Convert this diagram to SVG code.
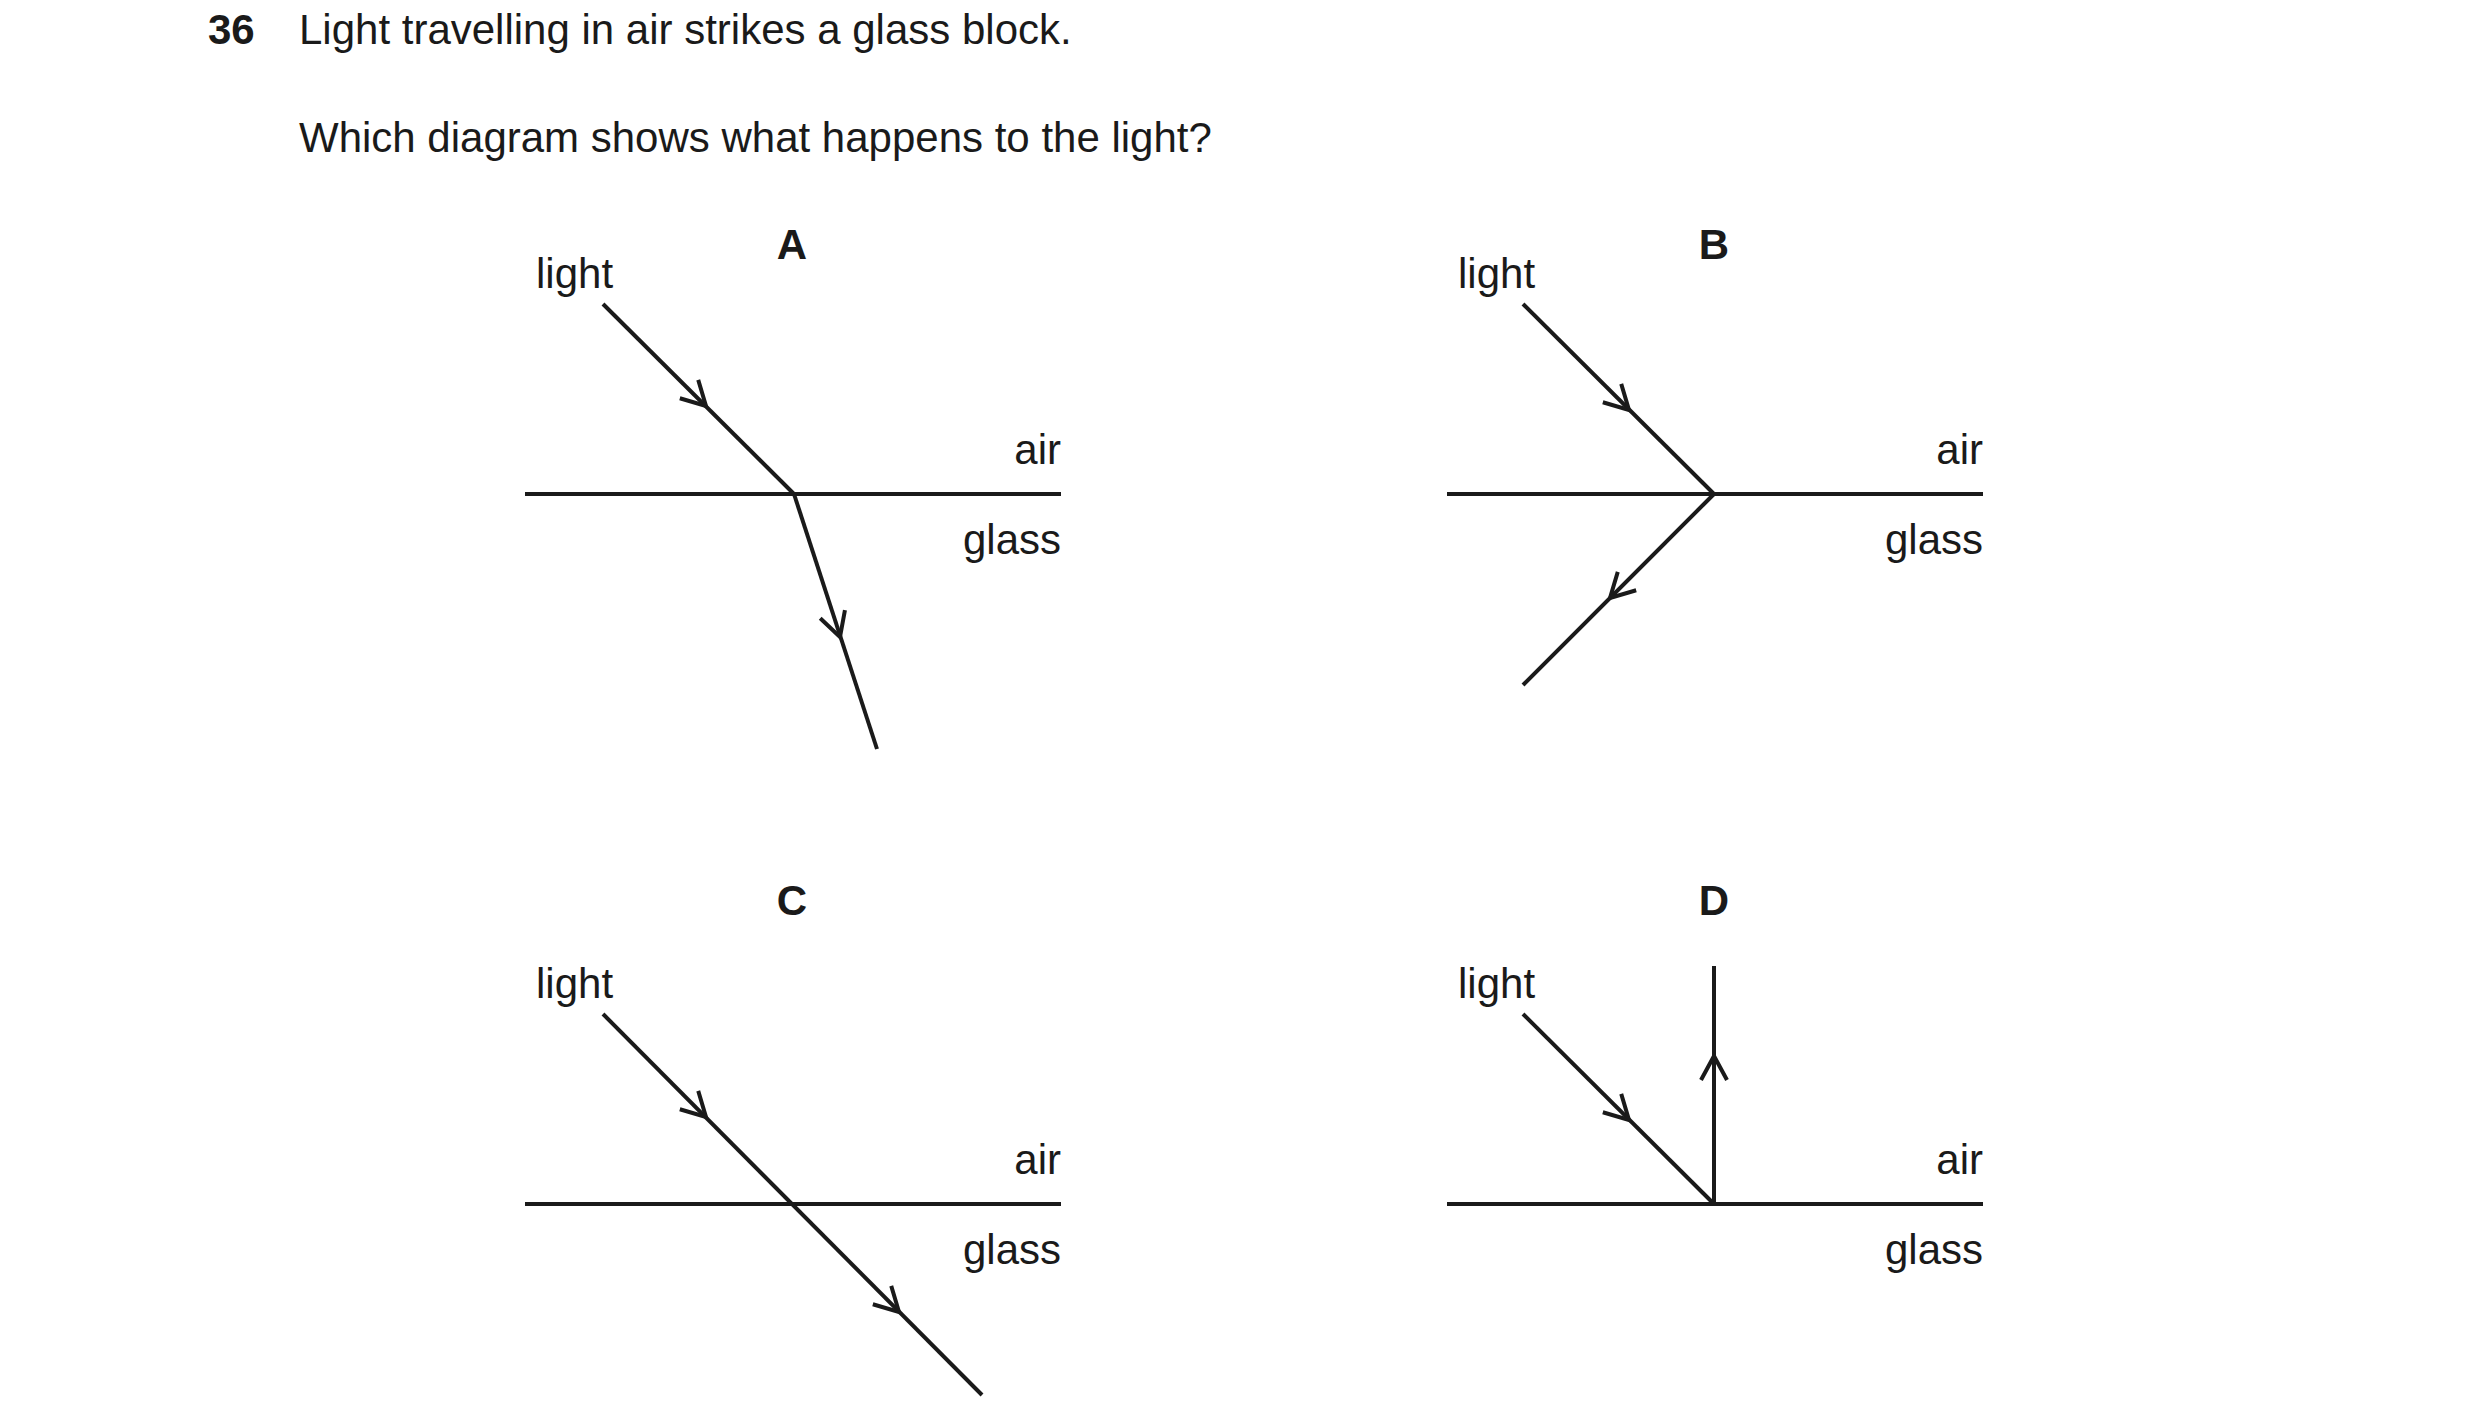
<svg xmlns="http://www.w3.org/2000/svg" width="2480" height="1420" viewBox="0 0 2480 1420">
<style>
text{font-family:"Liberation Sans",Arial,sans-serif;font-size:42px;fill:#1a1a1a}
.b{font-weight:bold}
.r{text-anchor:end}
.m{text-anchor:middle}
line,path{stroke:#1a1a1a;stroke-width:4;fill:none}
</style>
<defs><path id="ch" d="M-24,-13 L0,0 L-24,13"/></defs>
<rect width="2480" height="1420" fill="#fff"/>
<text class="b" x="208" y="44">36</text>
<text x="299" y="44">Light travelling in air strikes a glass block.</text>
<text x="299" y="152">Which diagram shows what happens to the light?</text>
<g id="A">
<text class="b m" x="792" y="259">A</text><text x="536" y="288">light</text>
<text class="r" x="1061" y="464">air</text><text class="r" x="1061" y="554">glass</text>
<line x1="525" y1="494" x2="1061" y2="494"/>
<line x1="603" y1="304" x2="794" y2="494"/><line x1="794" y1="494" x2="877" y2="749"/>
<use href="#ch" transform="translate(706,406) rotate(45)"/><use href="#ch" transform="translate(840,637) rotate(72)"/>
</g>
<g id="B">
<text class="b m" x="1714" y="259">B</text><text x="1458" y="288">light</text>
<text class="r" x="1983" y="464">air</text><text class="r" x="1983" y="554">glass</text>
<line x1="1447" y1="494" x2="1983" y2="494"/>
<line x1="1523" y1="304" x2="1714" y2="494"/><line x1="1714" y1="494" x2="1523" y2="685"/>
<use href="#ch" transform="translate(1629,410) rotate(45)"/><use href="#ch" transform="translate(1610,598) rotate(135)"/>
</g>
<g id="C">
<text class="b m" x="792" y="915">C</text><text x="536" y="998">light</text>
<text class="r" x="1061" y="1174">air</text><text class="r" x="1061" y="1264">glass</text>
<line x1="525" y1="1204" x2="1061" y2="1204"/>
<line x1="603" y1="1014" x2="982" y2="1395"/>
<use href="#ch" transform="translate(706,1117) rotate(45)"/><use href="#ch" transform="translate(899,1312) rotate(45)"/>
</g>
<g id="D">
<text class="b m" x="1714" y="915">D</text><text x="1458" y="998">light</text>
<text class="r" x="1983" y="1174">air</text><text class="r" x="1983" y="1264">glass</text>
<line x1="1447" y1="1204" x2="1983" y2="1204"/>
<line x1="1523" y1="1014" x2="1714" y2="1204"/><line x1="1714" y1="1204" x2="1714" y2="966"/>
<use href="#ch" transform="translate(1629,1120) rotate(45)"/><use href="#ch" transform="translate(1714,1056) rotate(-90)"/>
</g>
</svg>
